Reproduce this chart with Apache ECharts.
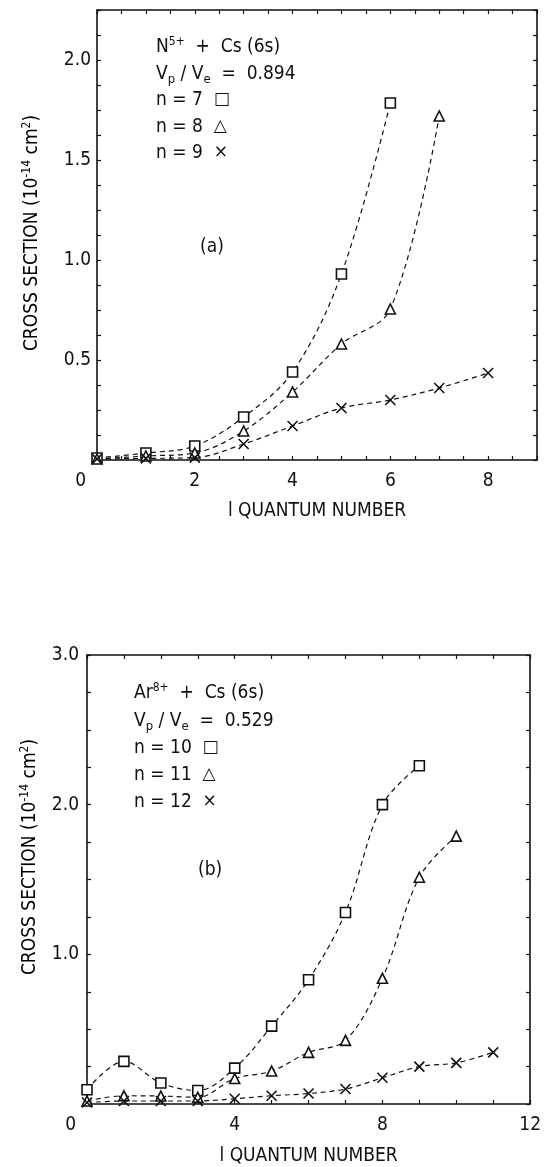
<!DOCTYPE html>
<html>
<head>
<meta charset="utf-8">
<script src="https://cdn.jsdelivr.net/npm/echarts@6/dist/echarts.min.js"></script>
<style>
  html, body { margin: 0; padding: 0; background: #fff; }
  #chart { width: 544px; height: 1167px; }
</style>
</head>
<body>
<div id="chart"></div>
<script>
// ---- data: panel (a) N5+ + Cs(6s) ----
const lA = [0, 1, 2, 3, 4, 5, 6, 7, 8]
const n7 = [0.01, 0.035, 0.07, 0.215, 0.44, 0.93, 1.785]
const n8 = [0.005, 0.02, 0.035, 0.145, 0.34, 0.58, 0.755, 1.72]
const n9 = [0.005, 0.008, 0.012, 0.08, 0.17, 0.26, 0.30, 0.36, 0.435]

// ---- data: panel (b) Ar8+ + Cs(6s) ----
const lB = [0, 1, 2, 3, 4, 5, 6, 7, 8, 9, 10, 11]
const n10 = [0.095, 0.285, 0.14, 0.09, 0.24, 0.52, 0.83, 1.28, 2.0, 2.26]
const n11 = [0.02, 0.055, 0.053, 0.045, 0.17, 0.22, 0.345, 0.425, 0.84, 1.515, 1.79]
const n12 = [0.01, 0.02, 0.02, 0.02, 0.035, 0.055, 0.07, 0.10, 0.175, 0.25, 0.275, 0.345]

const xTicksA = [0, 2, 4, 6, 8]
const yTicksA = [0.5, 1.0, 1.5, 2.0]
const xTicksB = [0, 4, 8, 12]
const yTicksB = [1.0, 2.0, 3.0]

const FONT = "'DejaVu Sans Condensed', 'Liberation Sans Narrow', 'DejaVu Sans', sans-serif"
const INK = '#111'

const pairs = (xs, ys) => ys.map((y, i) => [xs[i], y])
const hit = (ticks, v) => ticks.some((t) => Math.abs(t - v) < 1e-6)

const crossPath = 'path://M0,0L10,10M10,0L0,10'

const mkSeries = (name, data, symbol, size, idx) => ({
  name,
  type: 'line',
  xAxisIndex: idx,
  yAxisIndex: idx,
  data,
  smooth: 0.35,
  symbol,
  symbolSize: size,
  lineStyle: { color: INK, width: 1.2, type: [5, 4] },
  itemStyle: { color: '#fff', borderColor: INK, borderWidth: 1.6 },
  z: 3
})

const mkX = (idx, pos, max, interval, ticks, showLabel) => ({
  type: 'value',
  gridIndex: idx,
  position: pos,
  min: 0,
  max,
  interval,
  axisLine: { show: true, onZero: false, lineStyle: { color: INK, width: 1.6 } },
  axisTick: { show: true, inside: true, length: 4, lineStyle: { color: INK, width: 1.2 } },
  splitLine: { show: false },
  axisLabel: {
    show: showLabel,
    // the "0" sits a little left of the origin, as in the original
    formatter: (v) => (!hit(ticks, v) ? '' : v === 0 ? '{z|0}' : String(v)),
    rich: { z: { fontFamily: FONT, fontSize: 19, color: INK, padding: [0, 11, 0, 0] } },
    color: INK,
    fontFamily: FONT,
    fontSize: 19,
    margin: 12,
    alignMinLabel: 'right'
  }
})

const mkY = (idx, pos, max, interval, ticks, showLabel, margin) => ({
  type: 'value',
  gridIndex: idx,
  position: pos,
  min: 0,
  max,
  interval,
  axisLine: { show: true, onZero: false, lineStyle: { color: INK, width: 1.6 } },
  axisTick: { show: true, inside: true, length: 4, lineStyle: { color: INK, width: 1.2 } },
  splitLine: { show: false },
  axisLabel: {
    show: showLabel,
    formatter: (v) => (hit(ticks, v) ? v.toFixed(1) : ''),
    color: INK,
    fontFamily: FONT,
    fontSize: 19,
    margin,
    showMinLabel: true,
    showMaxLabel: true
  }
})

const base = { fontFamily: FONT, fontSize: 19, color: INK, lineHeight: 24, verticalAlign: 'middle' }
const sup = { fontFamily: FONT, fontSize: 12, color: INK, lineHeight: 24, verticalAlign: 'top', padding: [1, 0, 0, 0] }
const sub = { fontFamily: FONT, fontSize: 13, color: INK, lineHeight: 24, verticalAlign: 'bottom' }
const sym = { fontFamily: 'DejaVu Sans', fontSize: 17, color: INK, lineHeight: 24, verticalAlign: 'middle' }
const richText = { b: base, sup, sub, sym }

const label = (x, y, text) => ({
  type: 'text',
  x,
  y,
  style: { text, rich: richText, fill: INK, verticalAlign: 'middle' }
})

const yName = (x, y) => ({
  type: 'text',
  x,
  y,
  rotation: Math.PI / 2,
  style: {
    text: '{b|CROSS SECTION (10}{sup|-14}{b| cm}{sup|2}{b|)}',
    rich: richText,
    align: 'center',
    verticalAlign: 'middle'
  }
})

const xName = {
  name: 'l QUANTUM NUMBER',
  nameLocation: 'middle',
  nameTextStyle: { fontFamily: FONT, fontSize: 19, color: INK, verticalAlign: 'top' }
}

const chart = echarts.init(document.getElementById('chart'), null, { renderer: 'canvas' })

chart.setOption({
  backgroundColor: '#fff',
  animation: false,
  grid: [
    { left: 97, top: 10, width: 440, height: 450, show: false },
    { left: 87, top: 655, width: 446, height: 449, show: false }
  ],
  xAxis: [
    Object.assign(mkX(0, 'bottom', 9, 0.5, xTicksA, true), xName, { nameGap: 42 }),
    mkX(0, 'top', 9, 0.5, xTicksA, false),
    Object.assign(mkX(1, 'bottom', 12, 1, xTicksB, true), xName, { nameGap: 43 }),
    mkX(1, 'top', 12, 1, xTicksB, false)
  ],
  yAxis: [
    mkY(0, 'left', 2.25, 0.125, yTicksA, true, 6),
    mkY(0, 'right', 2.25, 0.125, yTicksA, false, 6),
    mkY(1, 'left', 3, 0.25, yTicksB, true, 8),
    mkY(1, 'right', 3, 0.25, yTicksB, false, 8)
  ],
  series: [
    mkSeries('n=7', pairs(lA, n7), 'rect', 10, 0),
    mkSeries('n=8', pairs(lA, n8), 'triangle', 10, 0),
    mkSeries('n=9', pairs(lA, n9), crossPath, 10, 0),
    mkSeries('n=10', pairs(lB, n10), 'rect', 10, 2),
    mkSeries('n=11', pairs(lB, n11), 'triangle', 10, 2),
    mkSeries('n=12', pairs(lB, n12), crossPath, 10, 2)
  ],
  graphic: [
    // panel (a) annotation
    label(156, 47, '{b|N}{sup|5+}{b|  +  Cs (6s)}'),
    label(156, 74, '{b|V}{sub|p}{b| / V}{sub|e}{b|  =  0.894}'),
    label(156, 100, '{b|n = 7  }{sym|□}'),
    label(156, 127, '{b|n = 8  }{sym|△}'),
    label(156, 153, '{b|n = 9  }{sym|×}'),
    label(200, 247, '{b|(a)}'),
    yName(32, 233),
    // panel (b) annotation
    label(134, 693, '{b|Ar}{sup|8+}{b|  +  Cs (6s)}'),
    label(134, 721, '{b|V}{sub|p}{b| / V}{sub|e}{b|  =  0.529}'),
    label(134, 748, '{b|n = 10  }{sym|□}'),
    label(134, 775, '{b|n = 11  }{sym|△}'),
    label(134, 802, '{b|n = 12  }{sym|×}'),
    label(198, 870, '{b|(b)}'),
    yName(30, 857)
  ]
})
</script>
</body>
</html>
